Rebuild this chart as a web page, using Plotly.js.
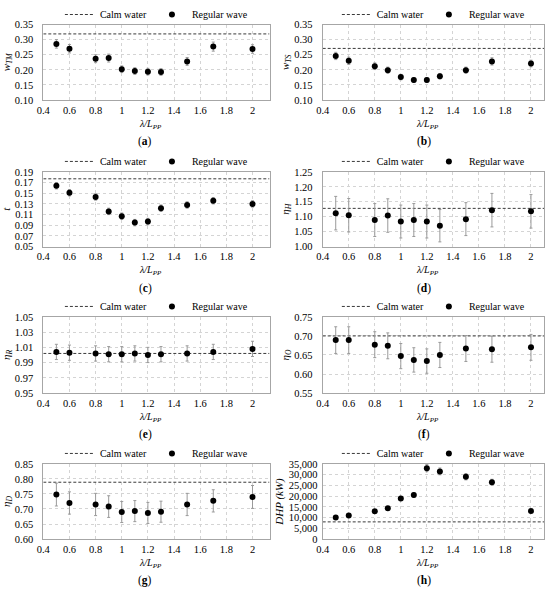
<!DOCTYPE html>
<html>
<head>
<meta charset="utf-8">
<script src="https://cdn.plot.ly/plotly-3.0.1.min.js"></script>
<style>
html,body{margin:0;padding:0;background:#fff;}
#chart{width:550px;height:593px;}
</style>
</head>
<body>
<div id="chart"></div>
<script>
// ---------- data ----------
const lambdaRatio = [0.5, 0.6, 0.8, 0.9, 1.0, 1.1, 1.2, 1.3, 1.5, 1.7, 2.0];

const wTM    = [0.286, 0.270, 0.237, 0.239, 0.202, 0.196, 0.194, 0.193, 0.228, 0.277, 0.269];
const wTMErr = [0.014, 0.014, 0.013, 0.013, 0.011, 0.011, 0.011, 0.011, 0.013, 0.015, 0.014];

const wTS    = [0.246, 0.230, 0.212, 0.199, 0.176, 0.166, 0.166, 0.179, 0.199, 0.228, 0.221];
const wTSErr = [0.012, 0.012, 0.011, 0.010, 0.009, 0.008, 0.008, 0.009, 0.010, 0.012, 0.011];

const tFac    = [0.164, 0.151, 0.143, 0.116, 0.107, 0.095, 0.097, 0.122, 0.128, 0.136, 0.130];
const tFacErr = [0.006, 0.006, 0.006, 0.006, 0.006, 0.006, 0.006, 0.006, 0.006, 0.006, 0.006];

const etaH    = [1.112, 1.105, 1.089, 1.104, 1.084, 1.089, 1.084, 1.070, 1.092, 1.122, 1.118];
const etaHErr = [0.056, 0.056, 0.055, 0.056, 0.055, 0.055, 0.055, 0.054, 0.055, 0.056, 0.056];

const etaR    = [1.004, 1.003, 1.002, 1.001, 1.001, 1.002, 1.000, 1.001, 1.002, 1.004, 1.008];
const etaRErr = [0.010, 0.010, 0.010, 0.010, 0.010, 0.010, 0.010, 0.010, 0.010, 0.010, 0.010];

const etaO    = [0.689, 0.689, 0.677, 0.674, 0.647, 0.637, 0.634, 0.650, 0.667, 0.665, 0.670];
const etaOErr = [0.035, 0.035, 0.034, 0.034, 0.033, 0.032, 0.032, 0.033, 0.034, 0.034, 0.034];

const etaD    = [0.748, 0.720, 0.715, 0.708, 0.690, 0.693, 0.687, 0.691, 0.715, 0.727, 0.740];
const etaDErr = [0.038, 0.037, 0.037, 0.036, 0.035, 0.035, 0.035, 0.035, 0.037, 0.037, 0.038];

const dhp    = [10000, 11000, 13000, 14300, 18900, 20500, 33000, 31500, 29000, 26500, 13100];
const dhpErr = [500, 550, 650, 720, 950, 1030, 1650, 1580, 1450, 1330, 660];

const calmWater = [0.319, 0.271, 0.177, 1.128, 1.002, 0.700, 0.789, 8000];

const yTitles = ['<i>w<sub>TM</sub></i>', '<i>w<sub>TS</sub></i>', '<i>t</i>', '<i>η<sub>H</sub></i>',
                 '<i>η<sub>R</sub></i>', '<i>η<sub>O</sub></i>', '<i>η<sub>D</sub></i>', '<i>DHP (kW)</i>'];
const yRanges = [[0.10, 0.35], [0.10, 0.35], [0.05, 0.19], [1.00, 1.25],
                 [0.95, 1.05], [0.55, 0.75], [0.60, 0.85], [0, 35000]];
const yDticks = [0.05, 0.05, 0.02, 0.05, 0.02, 0.05, 0.05, 5000];
const yFormats = ['.2f', '.2f', '.2f', '.2f', '.2f', '.2f', '.2f', ',d'];
const panelLabels = ['a', 'b', 'c', 'd', 'e', 'f', 'g', 'h'];
const series = [wTM, wTS, tFac, etaH, etaR, etaO, etaD, dhp];
const seriesErr = [wTMErr, wTSErr, tFacErr, etaHErr, etaRErr, etaOErr, etaDErr, dhpErr];
const legendNames = ['Calm water', 'Regular wave'];
const xTitle = '<i>λ/L<sub>PP</sub></i>';

// ---------- layout geometry ----------
const W = 550, H = 593;
const colX = [[43.3, 269.5], [322.7, 544]];
const xRanges = [[0.4, 2.13], [0.4, 2.1]];
const rowY = [[20.7, 96.7], [169, 244.3], [315, 391.7], [463, 538.7]];
const labelX = [145, 424];
const FONT = '"Liberation Serif", "Times New Roman", serif';

const traces = [];
const layout = {
  width: W, height: H,
  margin: {l: 0, r: 0, t: 0, b: 0},
  paper_bgcolor: '#ffffff', plot_bgcolor: '#ffffff',
  font: {family: FONT, size: 10, color: '#000'},
  showlegend: true,
  annotations: []
};

for (let i = 0; i < 8; i++) {
  const col = i % 2, row = Math.floor(i / 2);
  const n = i + 1;
  const xa = 'xaxis' + (n === 1 ? '' : n), ya = 'yaxis' + (n === 1 ? '' : n);
  const xr = 'x' + (n === 1 ? '' : n), yr = 'y' + (n === 1 ? '' : n);
  const lg = 'legend' + (n === 1 ? '' : n);
  const x0 = colX[col][0] / W, x1 = colX[col][1] / W;
  const yTop = 1 - rowY[row][0] / H, yBot = 1 - rowY[row][1] / H;

  layout[xa] = {
    domain: [x0, x1], anchor: yr, range: xRanges[col],
    tick0: 0.4, dtick: 0.2, ticks: '', showgrid: true,
    gridcolor: '#d4d4d4', griddash: 'dot', gridwidth: 1,
    showline: true, mirror: true, linecolor: '#a6a6a6', linewidth: 1,
    zeroline: false, tickfont: {family: FONT, size: 10.5, color: '#000'},
    ticklabelstandoff: 0
  };
  layout[ya] = {
    domain: [yBot, yTop], anchor: xr, range: yRanges[i],
    tick0: yRanges[i][0], dtick: yDticks[i], tickformat: yFormats[i], ticks: '',
    showgrid: true, gridcolor: '#d4d4d4', griddash: 'dot', gridwidth: 1,
    showline: true, mirror: true, linecolor: '#a6a6a6', linewidth: 1,
    zeroline: false, tickfont: {family: FONT, size: 10.5, color: '#000'},
    ticklabelstandoff: i === 7 ? 2 : 7,
    title: {text: yTitles[i], font: {family: FONT, size: 11, color: '#000'}, standoff: 2}
  };
  layout[lg] = {
    orientation: 'h', x: (x0 + x1) / 2, xanchor: 'center',
    y: 1 - (rowY[row][0] - 10.5) / H, yanchor: 'middle',
    bgcolor: 'rgba(0,0,0,0)', borderwidth: 0, itemwidth: 30,
    font: {family: FONT, size: 10, color: '#000'}, traceorder: 'normal'
  };

  traces.push({
    type: 'scatter', mode: 'lines', name: legendNames[0],
    x: xRanges[col], y: [calmWater[i], calmWater[i]],
    xaxis: xr, yaxis: yr, legend: lg,
    line: {color: '#3a3a3a', width: 1, dash: '3px,2px'},
    hoverinfo: 'skip'
  });
  traces.push({
    type: 'scatter', mode: 'markers', name: legendNames[1],
    x: lambdaRatio, y: series[i],
    xaxis: xr, yaxis: yr, legend: lg,
    marker: {color: '#000', size: 6, symbol: 'circle'},
    error_y: {type: 'data', array: seriesErr[i], visible: true,
              color: '#9a9a9a', thickness: 1, width: 1.5}
  });

  // x-axis title (λ/Lpp), placed just under the tick labels
  layout.annotations.push({
    text: xTitle, xref: xr + ' domain', yref: yr + ' domain',
    x: 0.5, y: 0, xshift: -6, yshift: -24,
    xanchor: 'center', yanchor: 'middle', showarrow: false,
    font: {family: FONT, size: 10, color: '#000'}
  });

  // panel label
  layout.annotations.push({
    text: '(<b>' + panelLabels[i] + '</b>)',
    xref: 'paper', yref: 'paper',
    x: labelX[col] / W,
    y: 1 - (rowY[row][1] + 42) / H,
    xanchor: 'center', yanchor: 'middle', showarrow: false,
    font: {family: FONT, size: 11.5, color: '#000'}
  });
}

Plotly.newPlot('chart', traces, layout, {displayModeBar: false, staticPlot: true});
</script>
</body>
</html>
